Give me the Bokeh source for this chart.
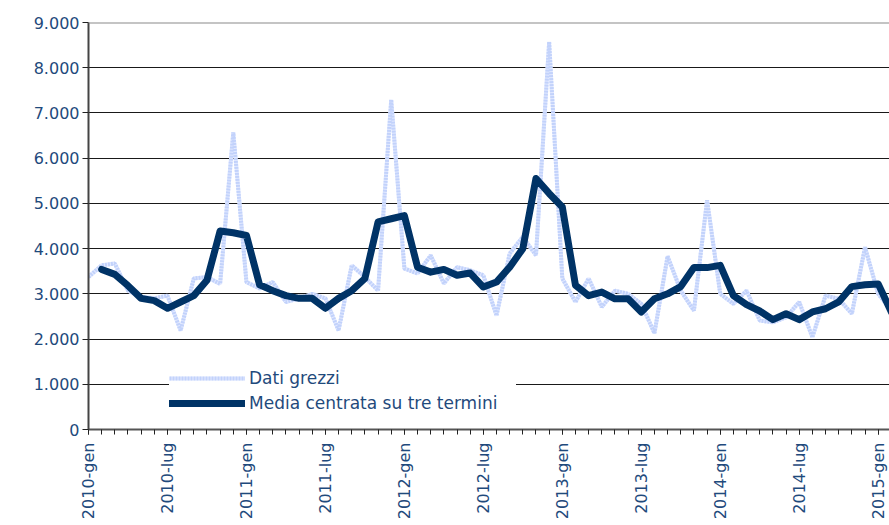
import math
from bokeh.plotting import figure
from bokeh.models import Range1d, FixedTicker, Legend, LegendItem, Span, ColumnDataSource
from bokeh.embed import file_html
from bokeh.resources import INLINE

# ---- data -------------------------------------------------------------
tick_months = [0, 6, 12, 18, 24, 30, 36, 42, 48, 54, 60]
tick_labels = ["2010-gen", "2010-lug", "2011-gen", "2011-lug", "2012-gen", "2012-lug",
               "2013-gen", "2013-lug", "2014-gen", "2014-lug", "2015-gen"]

raw = [3370, 3630, 3670, 3070, 2930, 2900, 2960, 2190, 3340, 3370, 3220, 6570,
       3260, 3120, 3260, 2820, 2900, 3000, 2900, 2190, 3630, 3370, 3070, 7290,
       3560, 3450, 3850, 3230, 3590, 3520, 3410, 2520, 3890, 4260, 3850, 8570,
       3340, 2820, 3340, 2710, 3070, 3000, 2780, 2130, 3830, 3070, 2630, 5070,
       3000, 2780, 3070, 2410, 2370, 2480, 2820, 2040, 2960, 2890, 2560, 4030,
       3000, 2630]

media = [float("nan"), 3540, 3430, 3180, 2900, 2850, 2680, 2820, 2960, 3300, 4390, 4350,
         4290, 3200, 3070, 2960, 2900, 2900, 2680, 2900, 3070, 3340, 4590, 4660,
         4730, 3590, 3480, 3540, 3410, 3460, 3150, 3260, 3590, 4000, 5550, 5220,
         4920, 3190, 2960, 3040, 2890, 2890, 2600, 2890, 3000, 3160, 3580, 3580,
         3630, 2960, 2760, 2620, 2430, 2560, 2430, 2600, 2670, 2820, 3160, 3200,
         3220, 2600]

y_ticks = [0, 1000, 2000, 3000, 4000, 5000, 6000, 7000, 8000, 9000]
y_labels = ["0", "1.000", "2.000", "3.000", "4.000", "5.000", "6.000", "7.000", "8.000", "9.000"]

series_names = ["Dati grezzi", "Media centrata su tre termini"]

# ---- styles -----------------------------------------------------------
TEXT = "#1f4a7c"
FONT = "DejaVu Sans"
NAVY = "#003366"
LIGHT = "#c2d2fb"
LIGHT2 = "#e3eaff"

idx = list(range(len(raw)))
src = ColumnDataSource(dict(x=idx, raw=raw, media=media))

p = figure(width=889, height=525, output_backend="svg", toolbar_location=None,
           x_range=Range1d(0, 60.86), y_range=Range1d(0, 9000),
           min_border_left=88, min_border_right=0, min_border_top=22, min_border_bottom=96)
p.outline_line_color = None
p.background_fill_color = "white"
p.border_fill_color = "white"

p.xgrid.visible = False
p.ygrid.grid_line_color = "black"
p.ygrid.grid_line_width = 1
p.ygrid.grid_line_alpha = 0.9

top = Span(location=9000, dimension="width", line_color="#8a8a8a", line_width=2)
p.add_layout(top)

# raw data: striped light blue line
r_base = p.line("x", "raw", source=src, line_color=LIGHT2, line_width=4)
r_dash = p.line("x", "raw", source=src, line_color=LIGHT, line_width=4, line_dash="2 1")
# moving average
r_ma = p.line("x", "media", source=src, line_color=NAVY, line_width=7,
              line_cap="round", line_join="round")

# axes
p.yaxis.ticker = FixedTicker(ticks=y_ticks)
p.yaxis.major_label_overrides = {t: l for t, l in zip(y_ticks, y_labels)}
p.yaxis.minor_tick_line_color = None
p.yaxis.major_tick_out = 6
p.yaxis.major_tick_in = 0
p.yaxis.major_label_standoff = 3
p.yaxis.axis_line_color = "#444444"
p.yaxis.axis_line_width = 2
p.yaxis.major_tick_line_color = "#222222"

p.xaxis.ticker = FixedTicker(ticks=tick_months, minor_ticks=list(range(0, 62)))
p.xaxis.major_label_overrides = {t: l for t, l in zip(tick_months, tick_labels)}
p.xaxis.major_label_orientation = math.pi / 2
p.xaxis.major_tick_out = 5
p.xaxis.major_tick_in = 0
p.xaxis.minor_tick_out = 5
p.xaxis.minor_tick_in = 0
p.xaxis.major_label_standoff = 8
p.xaxis.axis_line_color = "#555555"
p.xaxis.axis_line_width = 2
p.xaxis.major_tick_line_color = "#222222"
p.xaxis.minor_tick_line_color = "#222222"

for ax in (p.xaxis, p.yaxis):
    ax.major_label_text_font = FONT
    ax.major_label_text_font_size = "16px"
    ax.major_label_text_color = TEXT

legend = Legend(items=[LegendItem(label=series_names[0], renderers=[r_base, r_dash]),
                       LegendItem(label=series_names[1], renderers=[r_ma])],
                location=(81, 16), orientation="vertical",
                glyph_width=76, glyph_height=20, label_height=20, label_width=267,
                label_standoff=4, spacing=5, padding=15, margin=0,
                border_line_color=None, background_fill_color="white", background_fill_alpha=1,
                label_text_font=FONT, label_text_font_size="17px", label_text_color=TEXT)
p.add_layout(legend, "center")

open("out.html", "w").write(file_html(p, INLINE))
